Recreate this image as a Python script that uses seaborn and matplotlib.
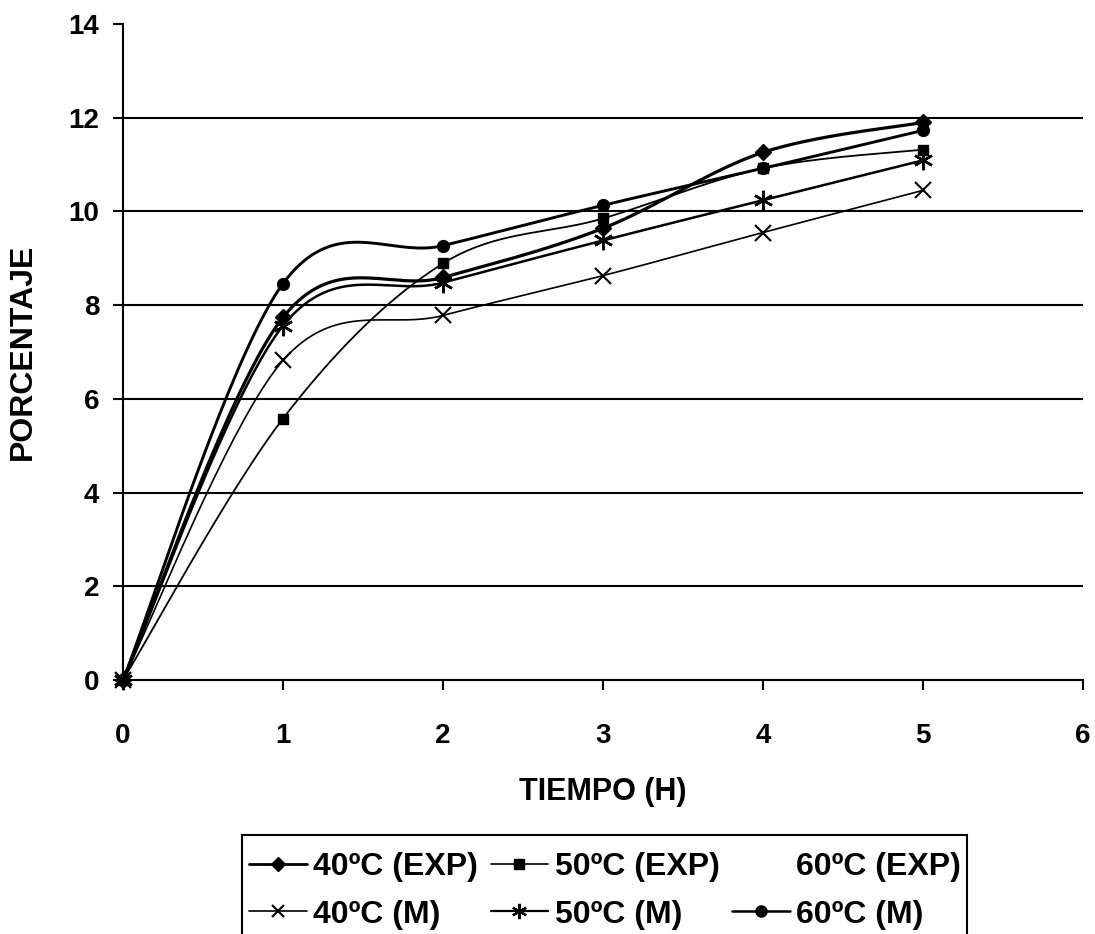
import numpy as np
import pandas as pd
import matplotlib
matplotlib.use("Agg")
import matplotlib.pyplot as plt
from matplotlib.lines import Line2D
from matplotlib.patches import Rectangle
import seaborn as sns

# Extraction percentage vs. time, experimental and model curves
tiempo = [0, 1, 2, 3, 4, 5]
exp_40 = [0, 7.74, 8.59, 9.64, 11.26, 11.90]
exp_50 = [0, 5.58, 8.89, 9.85, 10.92, 11.32]
mod_40 = [0, 6.82, 7.78, 8.63, 9.55, 10.45]
mod_50 = [0, 7.56, 8.48, 9.38, 10.24, 11.09]
mod_60 = [0, 8.46, 9.27, 10.13, 10.92, 11.73]

labels = ["40ºC (EXP)", "50ºC (EXP)", "60ºC (EXP)",
          "40ºC (M)", "50ºC (M)", "60ºC (M)"]
x_ticks = [0, 1, 2, 3, 4, 5, 6]
y_ticks = [0, 2, 4, 6, 8, 10, 12, 14]

sns.set_style("white")
plt.rcParams["font.family"] = ["Liberation Sans", "DejaVu Sans"]
plt.rcParams["font.weight"] = "bold"
plt.rcParams["text.color"] = "black"
plt.rcParams["axes.labelcolor"] = "black"
plt.rcParams["xtick.color"] = "black"
plt.rcParams["ytick.color"] = "black"


def smooth(xs, ys, n=40):
    """Spreadsheet-style smoothed line: cubic Bezier through every point."""
    p = np.column_stack([xs, ys]).astype(float)
    out = []
    for i in range(len(p) - 1):
        p0 = p[i - 1] if i > 0 else p[i]
        p1, p2 = p[i], p[i + 1]
        p3 = p[i + 2] if i + 2 < len(p) else p[i + 1]
        c1 = p1 + (p2 - p0) / 6.0
        c2 = p2 - (p3 - p1) / 6.0
        t = np.linspace(0, 1, n)[:, None]
        seg = ((1 - t) ** 3) * p1 + 3 * ((1 - t) ** 2) * t * c1 \
            + 3 * (1 - t) * t ** 2 * c2 + t ** 3 * p2
        out.append(seg if i == 0 else seg[1:])
    seg = np.vstack(out)
    return pd.DataFrame({"x": seg[:, 0], "y": seg[:, 1]})


W, H = 1095, 934
fig = plt.figure(figsize=(W / 100, H / 100), dpi=100)
ax = fig.add_axes([123 / W, 1 - 680 / H, 960 / W, 656 / H])

series = [
    (exp_40, dict(marker="D", ms=8, mfc="k", mec="k"), 2.3),
    (exp_50, dict(marker="s", ms=7.5, mfc="k", mec="k"), 1.3),
    (mod_40, dict(marker="x", ms=11, mew=1.5, mec="k"), 1.2),
    (mod_50, dict(marker=(6, 2, 0), ms=14, mew=1.8, mec="k"), 1.8),
    (mod_60, dict(marker="o", ms=8.5, mfc="k", mec="k"), 2.1),
]

for values, mstyle, lw in series:
    curve = smooth(tiempo, values)
    sns.lineplot(data=curve, x="x", y="y", sort=False, estimator=None,
                 color="black", linewidth=lw, ax=ax, clip_on=False)
    ax.plot(tiempo, values, linestyle="none", clip_on=False, zorder=4, **mstyle)

ax.set_xlim(0, 6)
ax.set_ylim(0, 14)
ax.set_xticks(x_ticks)
ax.set_yticks(y_ticks)
ax.set_xticklabels([str(v) for v in x_ticks], fontsize=20, fontweight="bold")
ax.set_yticklabels([str(v) for v in y_ticks], fontsize=20, fontweight="bold")

for yv in y_ticks[1:-1]:
    ax.axhline(yv, color="black", linewidth=1.5, zorder=1)

for side in ["top", "right"]:
    ax.spines[side].set_visible(False)
for side in ["left", "bottom"]:
    ax.spines[side].set_color("black")
    ax.spines[side].set_linewidth(1.5)

ax.tick_params(axis="both", direction="out", length=7, width=1.5,
               color="black", left=True, bottom=True)
ax.tick_params(axis="x", pad=24)
ax.tick_params(axis="y", pad=10)

ax.set_xlabel("TIEMPO (H)", fontsize=22, fontweight="bold", labelpad=20)
ax.set_ylabel("PORCENTAJE", fontsize=23, fontweight="bold", labelpad=22)

handles = [
    Line2D([0], [0], color="k", lw=2, marker="D", ms=7, mfc="k", mec="k"),
    Line2D([0], [0], color="k", lw=1.2, marker="x", ms=9, mew=1.5, mec="k"),
    Line2D([0], [0], color="k", lw=1.2, marker="s", ms=6.5, mfc="k", mec="k"),
    Line2D([0], [0], color="k", lw=1.6, marker=(6, 2, 0), ms=11, mew=1.6, mec="k"),
    Line2D([], [], linestyle="none"),
    Line2D([0], [0], color="k", lw=1.8, marker="o", ms=8, mfc="k", mec="k"),
]
order = [labels[0], labels[3], labels[1], labels[4], labels[2], labels[5]]

# legend box outline (its lower edge runs past the bottom of the figure)
fig.patches.append(Rectangle((242 / W, -0.05), 725 / W, (1 - 835 / H) + 0.05,
                             transform=fig.transFigure, fill=False,
                             edgecolor="black", linewidth=1.5))

fig.legend(handles, order, ncol=3, loc="upper left",
           bbox_to_anchor=(249 / W, 0, 712 / W, 1 - 852 / H),
           bbox_transform=fig.transFigure, mode="expand", borderaxespad=0,
           frameon=False, prop={"size": 23, "weight": "bold"},
           handlelength=1.8, handletextpad=0.2, columnspacing=0.4,
           labelspacing=0.55, borderpad=0)

fig.savefig("out.png", dpi=100, facecolor="white")
